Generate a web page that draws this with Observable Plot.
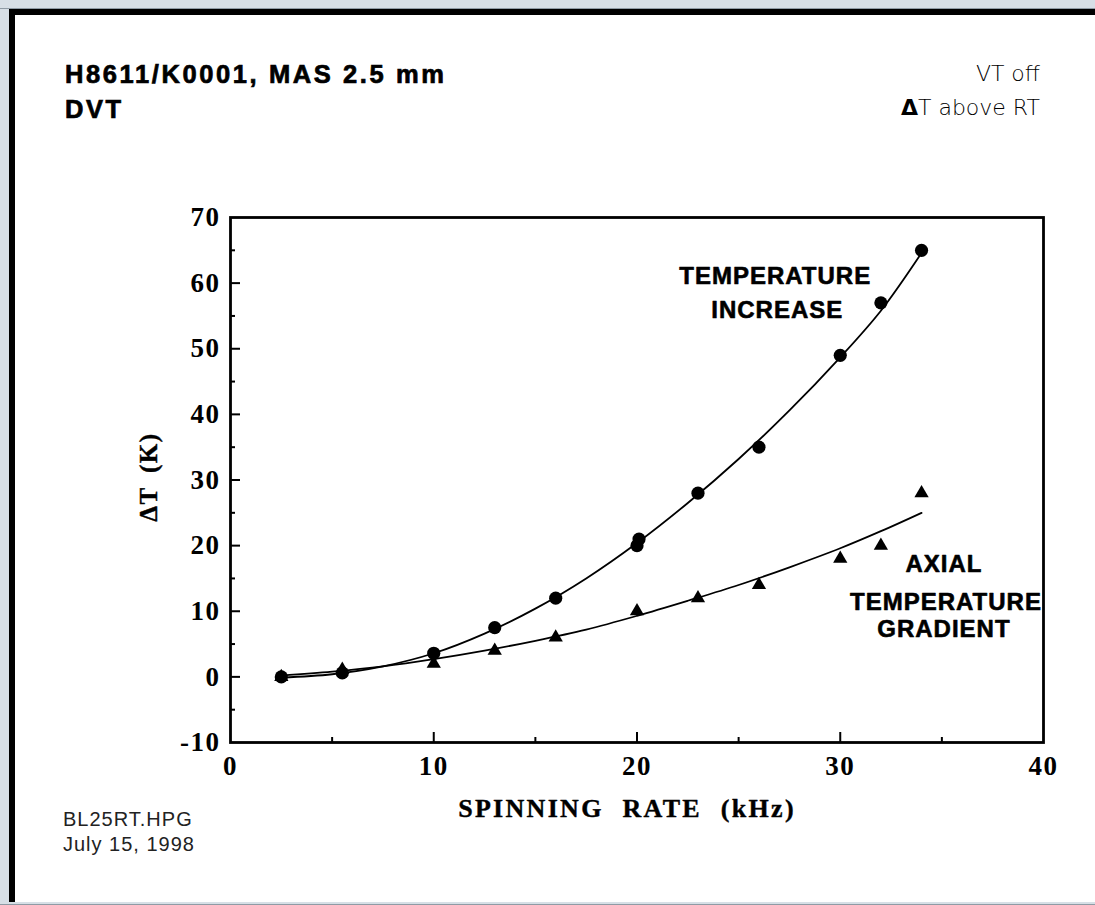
<!DOCTYPE html>
<html>
<head>
<meta charset="utf-8">
<script src="https://cdn.jsdelivr.net/npm/d3@7"></script>
<script src="https://cdn.jsdelivr.net/npm/@observablehq/plot@0.6"></script>
<style>
html, body { margin: 0; padding: 0; overflow: hidden; }
body { width: 100vw; height: 100vh; background: #d7dfe6; position: relative; }
#topline { position: absolute; left: 0; right: 0; top: 8px; height: 1px; background: #8f9ba5; }
#panel { position: absolute; left: 9px; right: -20px; top: 9px; height: 893px; background: #fff;
  border-top: 6px solid #000; border-left: 6px solid #000; box-sizing: border-box; }
#bottomline { position: absolute; left: 0; right: 0; top: 904px; height: 1px; background: #8f9ba5; }
.t { position: absolute; white-space: nowrap; line-height: 1; color: #000; }
.title { font-family: "Liberation Sans", Arial, sans-serif; font-weight: bold; font-size: 25.5px; letter-spacing: 2.6px; left: 65px; -webkit-text-stroke: 0.7px #000; }
.corner { font-family: "DejaVu Sans", sans-serif; font-weight: 200; font-size: 22px; right: 55px; text-align: right; color: #000; }
.foot { font-family: "Liberation Sans", Arial, sans-serif; font-size: 20px; left: 63px; letter-spacing: 1px; color: #222; }
#chart { position: absolute; left: 130px; top: 190px; }
</style>
</head>
<body>
<div id="topline"></div>
<div id="panel"></div>
<div id="bottomline"></div>
<div class="t title" style="top:62px">H8611/K0001, MAS 2.5 mm</div>
<div class="t title" style="top:97px">DVT</div>
<div class="t corner" style="top:63px">VT off</div>
<div class="t corner" style="top:97px"><b style="font-weight:bold">Δ</b>T above RT</div>
<div class="t foot" style="top:809px">BL25RT.HPG</div>
<div class="t foot" style="top:834px">July 15, 1998</div>
<div id="chart"></div>
<script>
// Measured points: temperature increase (circles)
const circleRate = [2.5, 5.5, 10, 13, 16, 20, 20.1, 23, 26, 30, 32, 34];
const tempIncrease = [0, 0.6, 3.6, 7.5, 12, 20, 21, 28, 35, 49, 57, 65];
// Measured points: axial temperature gradient (triangles)
const triRate = [2.5, 5.5, 10, 13, 16, 20, 23, 26, 30, 32, 34];
const axialGradient = [0, 1.1, 2, 4, 6, 10, 12, 14, 18, 20, 28];
// Fitted curves
const fitRate = [2.5, 5, 7.5, 10, 12.5, 15, 17.5, 20, 22.5, 25, 27.5, 30, 32, 34];
const fitTemp = [-0.1, 0.4, 1.6, 3.6, 6.6, 10.4, 15.0, 20.4, 26.5, 33.2, 40.6, 48.7, 55.8, 64.6];
const fitAxial = [0.2, 0.8, 1.6, 2.7, 4.0, 5.5, 7.2, 9.3, 11.6, 14.0, 16.7, 19.6, 22.2, 25.0];
// Axis ticks
const xTickLabels = [0, 10, 20, 30, 40];
const xMajorTicks = [10, 20, 30];
const xMinorTicks = [5, 15, 25, 35];
const yTickLabels = [-10, 0, 10, 20, 30, 40, 50, 60, 70];
const yMajorTicks = [0, 10, 20, 30, 40, 50, 60];
const yMinorTicks = [-5, 5, 15, 25, 35, 45, 55, 65];
// Annotations
const annotLabels = ["TEMPERATURE", "INCREASE", "AXIAL", "TEMPERATURE", "GRADIENT"];
const annotRate = [26.8, 26.9, 35.1, 35.2, 35.1];
const annotDT = [61.0, 55.9, 17.1, 11.4, 7.3];
const xLabel = "SPINNING RATE (kHz)";
const yLabel = "ΔT (K)";

const circles = circleRate.map((x, i) => ({x, y: tempIncrease[i]}));
const triangles = triRate.map((x, i) => ({x, y: axialGradient[i]}));
const fits = fitRate.map((x, i) => ({x, temp: fitTemp[i], axial: fitAxial[i]}));
const annots = annotLabels.map((t, i) => ({t, x: annotRate[i], y: annotDT[i]}));

const serif = "'Liberation Serif', 'Times New Roman', serif";
const sans = "'Liberation Sans', Arial, sans-serif";

const W = 960, H = 640, ML = 100, MR = 47, MT = 27, MB = 88;
const frameW = W - ML - MR, frameH = H - MT - MB;

const chart = Plot.plot({
  width: W,
  height: H,
  marginLeft: ML,
  marginRight: MR,
  marginTop: MT,
  marginBottom: MB,
  x: {domain: [0, 40]},
  y: {domain: [-10, 70]},
  style: {background: "transparent", overflow: "visible", color: "#000"},
  marks: [
    Plot.axisX({ticks: xTickLabels, tickSize: 0, tickPadding: 13, tickFormat: d => String(d), fontSize: 27, fontFamily: serif, fontWeight: "bold", stroke: "#000", strokeWidth: 0.5, label: null}),
    Plot.axisY({ticks: yTickLabels, tickSize: 0, tickPadding: 10, tickFormat: d => String(d), fontSize: 27, fontFamily: serif, fontWeight: "bold", stroke: "#000", strokeWidth: 0.5, label: null}),
    Plot.tickX(xMajorTicks, {x: d => d, insetTop: frameH - 10, stroke: "#000", strokeWidth: 2}),
    Plot.tickX(xMinorTicks, {x: d => d, insetTop: frameH - 5, stroke: "#000", strokeWidth: 2}),
    Plot.tickY(yMajorTicks, {y: d => d, insetRight: frameW - 10, stroke: "#000", strokeWidth: 2}),
    Plot.tickY(yMinorTicks, {y: d => d, insetRight: frameW - 5, stroke: "#000", strokeWidth: 2}),
    Plot.frame({stroke: "#000", strokeWidth: 2.8}),
    Plot.line(fits, {x: "x", y: "temp", curve: "catmull-rom", stroke: "#000", strokeWidth: 1.8}),
    Plot.line(fits, {x: "x", y: "axial", curve: "catmull-rom", stroke: "#000", strokeWidth: 1.8}),
    Plot.dot(circles, {x: "x", y: "y", r: 6.6, symbol: "circle", fill: "#000", stroke: null}),
    Plot.dot(triangles, {x: "x", y: "y", r: 5.3, symbol: "triangle", fill: "#000", stroke: null}),
    Plot.text(annots, {x: "x", y: "y", text: "t", fontFamily: sans, fontWeight: "bold", fontSize: 24, fill: "#000", stroke: "#000", strokeWidth: 0.6}),
    Plot.text([xLabel], {frameAnchor: "bottom", textAnchor: "middle", lineAnchor: "middle", dx: -10, dy: 66, text: d => d, fontFamily: serif, fontWeight: "bold", fontSize: 26, fill: "#000", stroke: "#000", strokeWidth: 0.4}),
    Plot.text([yLabel], {frameAnchor: "left", textAnchor: "middle", lineAnchor: "middle", dx: -82, dy: -3, rotate: -90, text: d => d, fontFamily: serif, fontWeight: "bold", fontSize: 25, fill: "#000", stroke: "#000", strokeWidth: 0.4})
  ]
});
// Letter and word spacing are not Plot text options: apply them to the rendered text groups
const svg = d3.select(chart);
const letterSp = [1, 2.3, 1.5];
const wordSp = [0, 10, 6];
svg.selectAll('g[aria-label="text"]').each(function (_, i) {
  d3.select(this).attr("letter-spacing", letterSp[i]).attr("word-spacing", wordSp[i]);
});
svg.selectAll('g[aria-label="x-axis tick label"], g[aria-label="y-axis tick label"]').attr("letter-spacing", 1.5);
document.getElementById("chart").appendChild(chart);
</script>
</body>
</html>
